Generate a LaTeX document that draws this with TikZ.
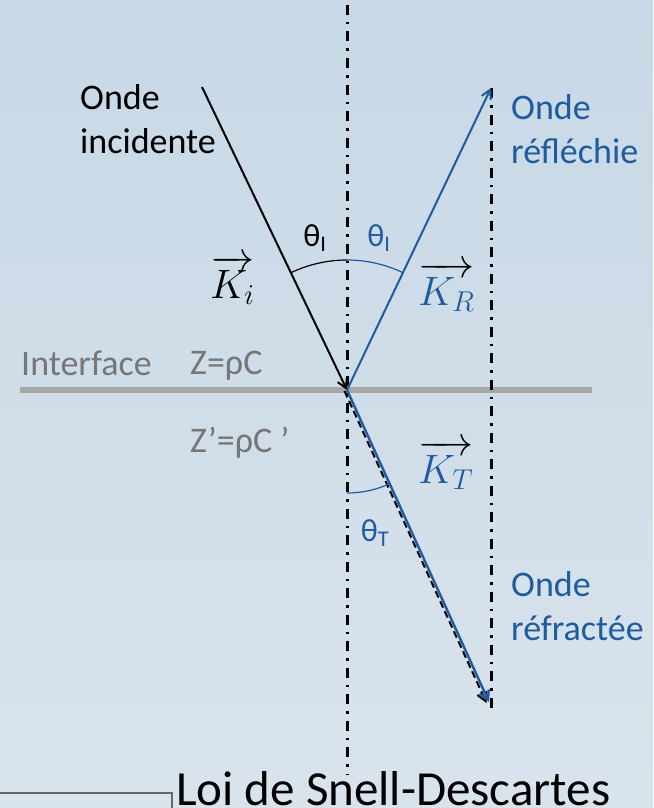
\RequirePackage{fix-cm}
\documentclass[tikz,border=0pt]{standalone}
\usepackage{fontspec}
\setmainfont{Carlito}
\usetikzlibrary{arrows.meta}
\definecolor{ondebleu}{RGB}{31,91,158}
\definecolor{gristexte}{RGB}{118,118,118}
\definecolor{grisligne}{RGB}{166,166,166}
\definecolor{fondhaut}{RGB}{199,216,230}
\definecolor{fondbas}{RGB}{217,227,236}

\begin{document}
\begin{tikzpicture}[x=1pt,y=-1pt,
  normale/.style={black, line width=3pt, dash pattern=on 10pt off 7pt on 2.5pt off 7pt},
  rayon/.style={line width=2pt, -{Straight Barb[length=9pt,width=10pt]}},
  texte/.style={font=\fontsize{36}{44}\selectfont, inner sep=0pt, align=left},
  angle/.style={font=\fontsize{32}{36}\selectfont, inner sep=0pt},
  vecteur/.style={font=\fontsize{41}{48}\selectfont, inner sep=0pt, anchor=base west}]

\shade[top color=fondhaut, bottom color=fondbas] (0,0) rectangle (653,808);
\useasboundingbox (0,0) rectangle (653,808);

\coordinate (O) at (347,390);
\coordinate (inc) at (202,87);
\coordinate (refl) at (491,88);
\coordinate (refr) at (489,702);
\coordinate (haut) at (347,5);
\coordinate (bas) at (347,775);
\coordinate (droiteH) at (491,88);
\coordinate (droiteB) at (491,712);
\coordinate (interG) at (20,390);
\coordinate (interD) at (592,390);

\draw[grisligne, line width=6pt] (interG) -- (interD);
\draw[normale] (haut) -- (bas);
\draw[normale] (droiteH) -- (droiteB);

\draw[rayon, black] (inc) -- (O);
\draw[rayon, ondebleu] (O) -- (refl);
\draw[rayon, black, dash pattern=on 7pt off 4pt] ([shift={(-2.5,1)}]O) -- ([shift={(-2.5,1)}]refr);
\draw[rayon, ondebleu, line width=2.4pt] (O) -- (refr);

\draw[black, line width=1.2pt] (O) ++(-115.5:130) arc[start angle=-115.5, end angle=-90, radius=130];
\draw[ondebleu, line width=1.2pt] (O) ++(-90:130) arc[start angle=-90, end angle=-64.5, radius=130];
\draw[ondebleu, line width=1.2pt] (O) ++(90:103) arc[start angle=90, end angle=65.5, radius=103];

\node[angle, black] (thetaI) at (315,238) {θ\textsubscript{I}};
\node[angle, ondebleu] (thetaR) at (379,238) {θ\textsubscript{I}};
\node[angle, ondebleu] (thetaT) at (375,533) {θ\textsubscript{T}};

\node[vecteur] (Ki) at (210,298) {$\overrightarrow{K_i}$};
\node[vecteur] (KR) at (418,305) {$\overrightarrow{{\color{ondebleu}K_R}}$};
\node[vecteur] (KT) at (418,483) {$\overrightarrow{{\color{ondebleu}K_T}}$};

\node[texte, anchor=base west] (incid) at (80,153) {Onde\\incidente};
\node[texte, ondebleu, anchor=base west] (reflechie) at (511,163) {Onde\\réfléchie};
\node[texte, ondebleu, anchor=base west] (refractee) at (511,640) {Onde\\réfractée};

\node[texte, gristexte, anchor=base west] (interface) at (21,375) {Interface};
\node[texte, gristexte, anchor=base west] (Z) at (190,374) {Z=ρC};
\node[texte, gristexte, anchor=base west] (Zp) at (190,452) {Z’=ρC ’};

\node[font=\fontsize{49}{58}\selectfont, inner sep=0pt, anchor=base west] (titre) at (176,805) {Loi de Snell-Descartes};
\draw[black!60, line width=1.5pt] (0,793) -- (172,793) -- (172,808);

\end{tikzpicture}
\end{document}
